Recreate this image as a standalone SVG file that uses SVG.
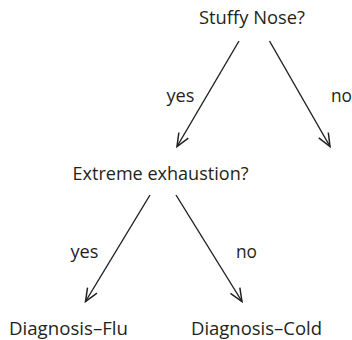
<svg xmlns="http://www.w3.org/2000/svg" width="352" height="340" viewBox="0 0 352 340">
<style>
text{font-family:"Open Sans","Liberation Sans",sans-serif;font-size:18px;fill:#231f20}
.c line{stroke:#231f20;stroke-width:1.4;fill:none}
</style>
<defs>
<marker id="ah" markerUnits="userSpaceOnUse" markerWidth="30" markerHeight="30" viewBox="-15 -15 30 30" refX="0" refY="0" orient="auto">
<path d="M-13,-5.5 L0,0 L-13,5.5" fill="none" stroke="#231f20" stroke-width="1.5" stroke-linejoin="miter"/>
</marker>
</defs>
<rect width="352" height="340" fill="#fff"/>
<g class="c" id="connectors">
<line x1="239" y1="41" x2="177" y2="146.5" marker-end="url(#ah)"/>
<line x1="269.5" y1="41" x2="330" y2="146.5" marker-end="url(#ah)"/>
<line x1="150" y1="195" x2="85.5" y2="301.5" marker-end="url(#ah)"/>
<line x1="176" y1="195" x2="242" y2="301.5" marker-end="url(#ah)"/>
<text x="166.5" y="101.5" textLength="28" lengthAdjust="spacingAndGlyphs">yes</text>
<text x="331" y="101.5" textLength="21" lengthAdjust="spacingAndGlyphs">no</text>
<text x="70.5" y="258" textLength="28" lengthAdjust="spacingAndGlyphs">yes</text>
<text x="236" y="258" textLength="21" lengthAdjust="spacingAndGlyphs">no</text>
</g>
<g id="n-stuffy"><text x="199" y="24" textLength="106" lengthAdjust="spacingAndGlyphs">Stuffy Nose?</text></g>
<g id="n-exhaust"><text x="72.5" y="179.5" textLength="176" lengthAdjust="spacingAndGlyphs">Extreme exhaustion?</text></g>
<g id="n-flu"><text x="9" y="335" textLength="119" lengthAdjust="spacingAndGlyphs">Diagnosis–Flu</text></g>
<g id="n-cold"><text x="191" y="335" textLength="131" lengthAdjust="spacingAndGlyphs">Diagnosis–Cold</text></g>
</svg>
